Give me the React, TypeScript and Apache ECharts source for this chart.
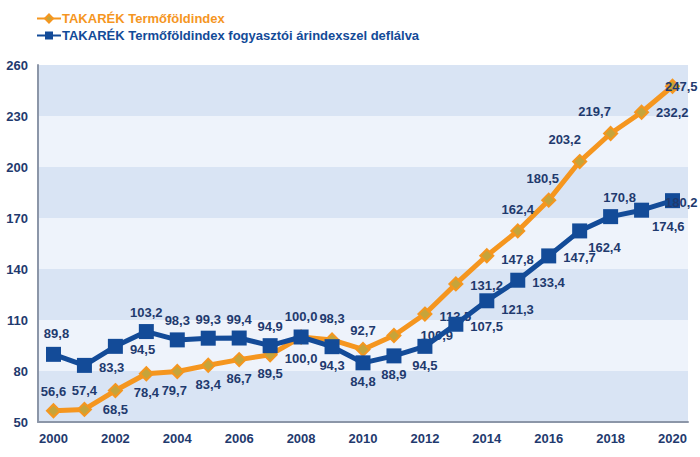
import React, { useEffect, useRef } from "react";
import * as echarts from "echarts";

const years = ["2000","2001","2002","2003","2004","2005","2006","2007","2008","2009","2010","2011","2012","2013","2014","2015","2016","2017","2018","2019","2020"];
const nominal = [56.6,57.4,68.5,78.4,79.7,83.4,86.7,89.5,100.0,98.3,92.7,100.9,113.5,131.2,147.8,162.4,180.5,203.2,219.7,232.2,247.5];
const deflated = [89.8,83.3,94.5,103.2,98.3,99.3,99.4,94.9,100.0,94.3,84.8,88.9,94.5,107.5,121.3,133.4,147.7,162.4,170.8,174.6,180.2];
const yTicks = [50, 80, 110, 140, 170, 200, 230, 260];
const seriesNames = ["TAKARÉK Termőföldindex", "TAKARÉK Termőföldindex fogyasztói árindexszel deflálva"];

// label placement per point: [position, dx, dy]
const nominalLabelPos: [string, number, number][] = [
  ["top",0,0],["top",0,0],["bottom",0,0],["bottom",0,0],["bottom",-3,0],["bottom",0,0],["bottom",0,0],["bottom",0,0],["bottom",0,2],["top",0,-2],
  ["top",0,0],["right",14,0],["right",2,2],["right",2,2],["right",2,4],["top",0,-2],["top",-6,-3],["top",-15,-3],["top",-16,-3],["right",2,0],["right",-20,0]
];
const deflatedLabelPos: [string, number, number][] = [
  ["top",3,-2],["right",2,2],["right",2,3],["top",0,0],["top",0,0],["top",0,0],["top",0,0],["top",0,0],["top",0,-2],["bottom",0,0],
  ["bottom",0,0],["bottom",0,0],["bottom",0,0],["right",2,2],["right",2,9],["right",2,2],["right",2,2],["right",-4,17],["top",9,0],["right",-2,16],["right",-20,2]
];

const fmt = (v: number) => v.toFixed(1).replace(".", ",");
const labelColor = "#1f3a6e";
const orange = "#f5961f";
const blue = "#134b98";

function buildData(values: number[], pos: [string, number, number][]) {
  return values.map((v, i) => ({
    value: v,
    label: { position: pos[i][0], offset: [pos[i][1], pos[i][2]] },
  }));
}

export default function App() {
  const ref = useRef<HTMLDivElement>(null);
  useEffect(() => {
    if (!ref.current) return;
    const chart = echarts.init(ref.current, undefined, { renderer: "svg" });
    const labelStyle = {
      show: true,
      color: labelColor,
      fontFamily: "Liberation Sans, Arial, sans-serif",
      fontWeight: "bold",
      fontSize: 13,
      formatter: (p: any) => fmt(p.value),
    };
    chart.setOption({
      animation: false,
      backgroundColor: "#ffffff",
      legend: {
        orient: "vertical",
        left: 31,
        top: 7,
        itemGap: 4,
        itemWidth: 24,
        itemHeight: 10,
        textStyle: {
          fontFamily: "Liberation Sans, Arial, sans-serif",
          fontWeight: "bold",
          fontSize: 13,
          padding: [0, 0, 0, -4],
        },
        data: [
          { name: seriesNames[0], textStyle: { color: orange } },
          { name: seriesNames[1], textStyle: { color: blue } },
        ],
      },
      grid: { left: 38, right: 12, top: 65, bottom: 35 },
      xAxis: {
        type: "category",
        data: years,
        boundaryGap: true,
        axisLine: { lineStyle: { color: "#8c96a8", width: 2 } },
        axisTick: { show: false },
        axisLabel: {
          interval: 1,
          margin: 10,
          color: labelColor,
          fontFamily: "Liberation Sans, Arial, sans-serif",
          fontWeight: "bold",
          fontSize: 13,
        },
      },
      yAxis: {
        type: "value",
        min: yTicks[0],
        max: yTicks[yTicks.length - 1],
        interval: 30,
        axisLine: { show: true, lineStyle: { color: "#8c96a8", width: 2 } },
        axisTick: { show: false },
        splitLine: { show: false },
        splitArea: { show: true, areaStyle: { color: ["#d9e4f4", "#eef3fb"] } },
        axisLabel: {
          margin: 10,
          color: labelColor,
          fontFamily: "Liberation Sans, Arial, sans-serif",
          fontWeight: "bold",
          fontSize: 13,
        },
      },
      series: [
        {
          name: seriesNames[0],
          type: "line",
          data: buildData(nominal, nominalLabelPos),
          symbol: "diamond",
          symbolSize: 13,
          lineStyle: { color: orange, width: 5 },
          itemStyle: { color: "#c6a43a", borderColor: orange, borderWidth: 2 },
          label: labelStyle,
          z: 2,
        },
        {
          name: seriesNames[1],
          type: "line",
          data: buildData(deflated, deflatedLabelPos),
          symbol: "rect",
          symbolSize: 15,
          lineStyle: { color: blue, width: 5 },
          itemStyle: { color: blue },
          label: labelStyle,
          z: 3,
        },
      ],
    });
    return () => chart.dispose();
  }, []);
  return <div ref={ref} style={{ width: 700, height: 457, position: "absolute", left: 0, top: 0 }} />;
}
